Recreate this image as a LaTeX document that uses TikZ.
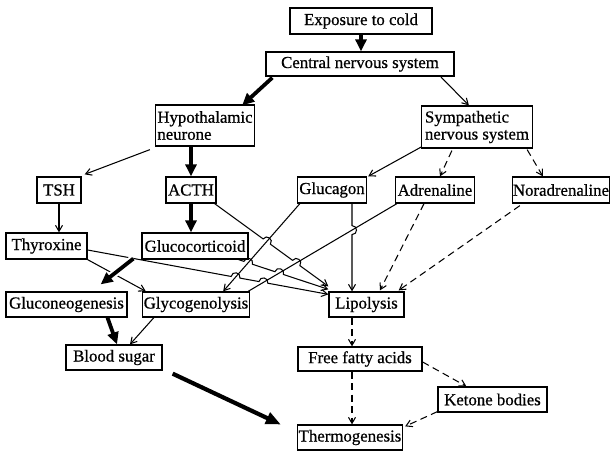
\documentclass[tikz,border=0pt]{standalone}
\usepackage{fontspec}
\setmainfont{Liberation Serif}
\newfontfamily\diagfont{Liberation Serif}[FakeBold=0.7]
\usetikzlibrary{arrows.meta,calc}
\newcommand\fsz{\diagfont\fontsize{16.8}{17}\selectfont}
\tikzset{
  box/.style={draw, line width=1.3pt, inner sep=0pt, minimum height=26pt, font=\fsz},
  conn/.style={line width=1.05pt, -{Straight Barb[length=6pt,width=7pt]}},
  plainconn/.style={line width=1.05pt},
  dconn/.style={conn, dash pattern=on 7pt off 4.5pt},
  bigarrow/.style={line width=3.8pt, -{Triangle[length=12pt,width=11pt]}},
  hop/.style={bend left=90, looseness=1.7}
}
\begin{document}
\begin{tikzpicture}[x=1pt,y=-1pt]
\useasboundingbox (0,0) rectangle (610,452);
% nodes
\node[box, minimum width=142pt] (cold) at (361,21) {Exposure to cold};
\node[box, minimum width=188pt, minimum height=24pt] (cns) at (360,64) {Central nervous system};
\node[box, minimum width=99pt, minimum height=41pt, align=left] (hypo) at (205,125.5) {Hypothalamic\\neurone};
\node[box, minimum width=111pt, minimum height=42pt, align=left] (symp) at (477,127) {Sympathetic\\nervous system};
\node[box, minimum width=44pt] (tsh) at (59,190) {TSH};
\node[box, minimum width=50pt] (acth) at (191,190) {ACTH};
\node[box, minimum width=69pt] (glucagon) at (332,190) {Glucagon};
\node[box, minimum width=79pt] (adren) at (435,190) {Adrenaline};
\node[box, minimum width=97pt] (noradr) at (561,190) {Noradrenaline};
\node[box, minimum width=81pt] (thyrox) at (46.5,246) {Thyroxine};
\node[box, minimum width=106pt] (glucoc) at (195,246) {Glucocorticoid};
\node[box, minimum width=121pt, minimum height=25pt] (gluconeo) at (66.5,304.5) {Gluconeogenesis};
\node[box, minimum width=107pt, minimum height=25pt] (glycogen) at (196,304.5) {Glycogenolysis};
\node[box, minimum width=75pt, minimum height=25pt] (lipo) at (366.5,304.5) {Lipolysis};
\node[box, minimum width=96pt, minimum height=25pt] (blood) at (114,357.5) {Blood sugar};
\node[box, minimum width=124pt, minimum height=24pt] (ffa) at (360,359) {Free fatty acids};
\node[box, minimum width=109pt, minimum height=25pt] (ketone) at (492.5,399.5) {Ketone bodies};
\node[box, minimum width=105pt, minimum height=25pt] (thermo) at (350,437.5) {Thermogenesis};

% thick arrows
\draw[bigarrow] (cold.south) -- (cold.south |- cns.north);
\draw[bigarrow] ($(cns.south west)+(7,1)$) -- ($(hypo.north east)+(-13,1)$);
\draw[bigarrow] (acth.north |- hypo.south) -- (acth.north);
\draw[bigarrow] (acth.south) -- (acth.south |- glucoc.north);

% thin arrows top
\draw[conn] ($(cns.south east)+(-14,0)$) -- ($(symp.north west)+(48,0)$);
\draw[conn] ($(hypo.south west)+(-5,3)$) -- ($(tsh.north east)+(3,-2)$);
\draw[conn] ($(symp.south west)+(1,-2)$) -- ($(glucagon.north east)+(1,0)$);
\draw[dconn] ($(symp.south west)+(31,2)$) -- ($(adren.north)+(5,0)$);
\draw[dconn] ($(symp.south east)+(-6,1)$) -- ($(noradr.north west)+(31,0)$);
\draw[conn] (tsh.south) -- (tsh.south |- thyrox.north);

% lines crossing region
\coordinate (gS) at ($(glucagon.south west)+(3,0)$);
\coordinate (gE) at ($(glycogen.north east)+(-27,0)$);
\coordinate (aS) at ($(adren.south west)+(2,0)$);
\coordinate (aE) at ($(glycogen.north east)+(-2,0)$);
\draw[conn] (gS) -- (gE);
\draw[plainconn] (aS) -- (aE);

\coordinate (tS) at ($(thyrox.east)+(0,4)$);
\coordinate (tE) at ($(lipo.north west)+(0,3)$);
\coordinate (cS) at ($(glucoc.south east)+(-10,0)$);
\coordinate (cE) at ($(lipo.north west)+(0,-2)$);
\coordinate (kS) at ($(acth.south east)+(-2,0)$);
\coordinate (kE) at ($(lipo.north west)+(0,-5)$);
\coordinate (vS) at ($(glucagon.south)+(20,0)$);
\coordinate (vE) at ($(lipo.north)+(-14.5,0)$);

\coordinate (t1) at (intersection of tS--tE and gS--gE);
\coordinate (t2) at (intersection of tS--tE and aS--aE);
\coordinate (c1) at (intersection of cS--cE and gS--gE);
\coordinate (c2) at (intersection of cS--cE and aS--aE);
\coordinate (k1) at (intersection of kS--kE and gS--gE);
\coordinate (k2) at (intersection of kS--kE and aS--aE);
\coordinate (v1) at (intersection of vS--vE and aS--aE);

\draw[conn] (tS) -- ($(t1)!4.5pt!(tS)$) to[hop] ($(t1)!4.5pt!(tE)$)
  -- ($(t2)!4.5pt!(tS)$) to[hop] ($(t2)!4.5pt!(tE)$) -- (tE);
\draw[conn] (cS) -- ($(c1)!4.5pt!(cS)$) to[hop] ($(c1)!4.5pt!(cE)$)
  -- ($(c2)!4.5pt!(cS)$) to[hop] ($(c2)!4.5pt!(cE)$) -- (cE);
\draw[conn] (kS) -- ($(k1)!4.5pt!(kS)$) to[hop] ($(k1)!4.5pt!(kE)$)
  -- ($(k2)!4.5pt!(kS)$) to[hop] ($(k2)!4.5pt!(kE)$) -- (kE);
\draw[conn] (vS) -- ($(v1)!4.5pt!(vS)$) to[hop] ($(v1)!4.5pt!(vE)$) -- (vE);

\draw[dconn] ($(adren.south)+(-11,0)$) -- ($(lipo.north)+(13.5,-1)$);
\draw[dconn] ($(noradr.south west)+(8,2)$) -- ($(lipo.north east)+(-6,-1)$);

\draw[conn] (thyrox.south east) -- ($(glycogen.north west)+(4,0)$);
\draw[bigarrow, preaction={draw=white, line width=8pt, -}] ($(glucoc.south west)+(-8,-1)$) -- ($(gluconeo.north east)+(-27,-7)$);

% lower part
\draw[bigarrow] ($(gluconeo.south)+(41,0)$) -- ($(blood.north)+(3,0)$);
\draw[conn] ($(glycogen.south west)+(12,0)$) -- ($(blood.north)+(16,0)$);
\draw[bigarrow, line width=4.2pt, -{Triangle[length=15pt,width=12pt]}] ($(blood.south east)+(10,3)$) -- ($(thermo.west)+(-16,-13)$);
\draw[dconn] ($(lipo.south)+(-14.5,0)$) -- ($(ffa.north)+(-8,0)$);
\draw[dconn] ($(ffa.south)+(-8,0)$) -- ($(thermo.north)+(2,0)$);
\draw[dconn] ($(ffa.east)+(0,3)$) -- ($(ketone.north west)+(29,0)$);
\draw[dconn] ($(ketone.south west)+(0,-1)$) -- ($(thermo.north east)+(2,2)$);
\end{tikzpicture}
\end{document}
